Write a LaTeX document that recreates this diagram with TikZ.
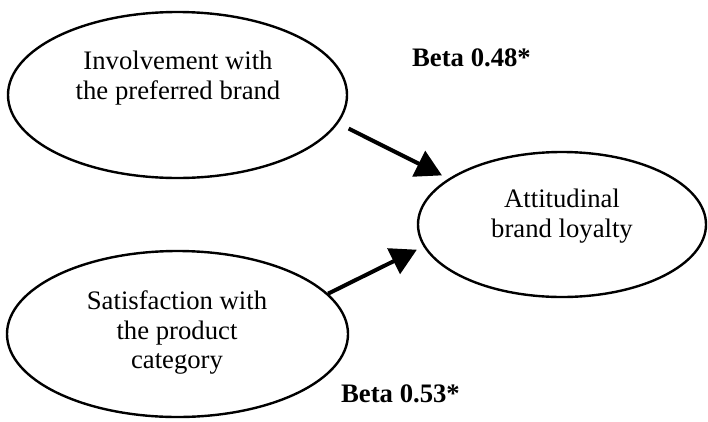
\documentclass[tikz,border=0pt]{standalone}
\usepackage{fontspec}
\setmainfont{Liberation Serif}
\usetikzlibrary{shapes.geometric,arrows.meta}
\begin{document}
\begin{tikzpicture}[x=1pt,y=-1pt,
  oval/.style={draw,ellipse,line width=2.4pt,inner sep=0pt},
  txt/.style={inner sep=0pt,anchor=base,font=\fontsize{26.7}{30}\selectfont},
  beta/.style={inner sep=0pt,anchor=base,font=\fontsize{26.7}{30}\selectfont\bfseries},
  arr/.style={line width=4pt,-{Triangle[length=26pt,width=28pt]}}]
\useasboundingbox (0,0) rectangle (708,421);
% ellipses
\node[oval,minimum width=339pt,minimum height=166pt] (e1) at (177.5,95) {};
\node[oval,minimum width=288pt,minimum height=145pt] (e2) at (562,224.5) {};
\node[oval,minimum width=341pt,minimum height=166pt] (e3) at (177.5,334) {};
% texts
\node[txt] (t1a) at (178,69) {Involvement with};
\node[txt] (t1b) at (178,99) {the preferred brand};
\node[txt] (t2a) at (562,207) {Attitudinal};
\node[txt] (t2b) at (562,237) {brand loyalty};
\node[txt] (t3a) at (177,309) {Satisfaction with};
\node[txt] (t3b) at (177,339) {the product};
\node[txt] (t3c) at (177,368) {category};
% labels
\node[beta] (b1) at (471.5,66) {Beta 0.48*};
\node[beta] (b2) at (400.5,402) {Beta 0.53*};
% arrows
\draw[arr,shorten <=11.7pt,shorten >=7.2pt] (e1.-10.3) -- (e2.158.2);
\draw[arr,shorten >=7.3pt] (e3.15.2) -- (e2.189.2);
\end{tikzpicture}
\end{document}
